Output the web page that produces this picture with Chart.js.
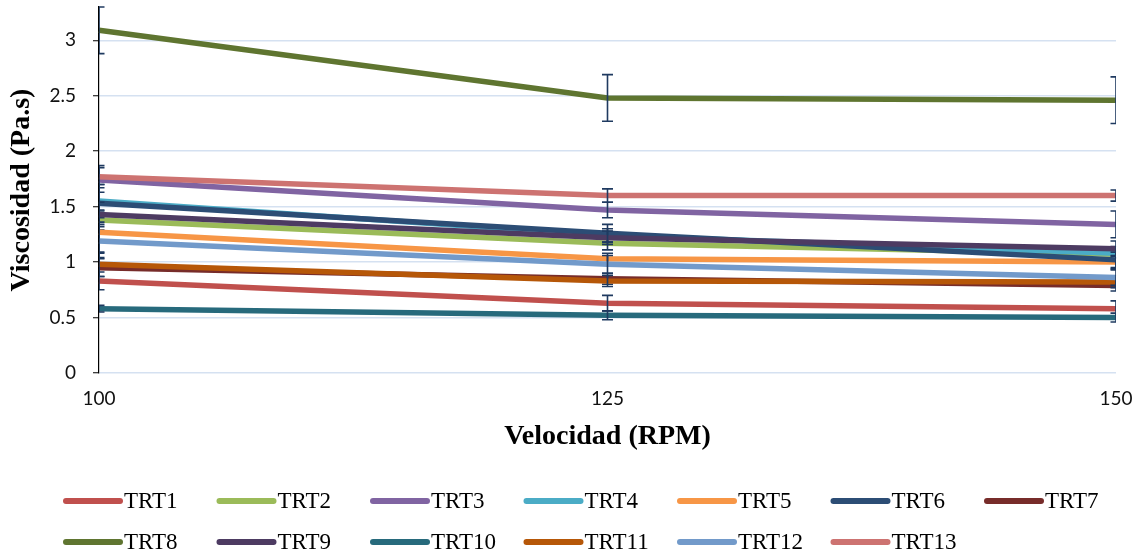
<!DOCTYPE html>
<html lang="es">
<head>
<meta charset="utf-8">
<title>Viscosidad vs Velocidad</title>
<script src="https://cdn.jsdelivr.net/npm/chart.js@4.4.1/dist/chart.umd.min.js"></script>
<style>
    html, body { margin: 0; padding: 0; background: #fff; }
    #grafico { display: block; }
</style>
</head>
<body>
<canvas id="grafico" width="1144" height="556"></canvas>
<script>
// Velocidades de ensayo (RPM)
const velocidades = ['100', '125', '150'];
const ticksViscosidad = [0, 0.5, 1, 1.5, 2, 2.5, 3];

// Viscosidad media (Pa.s) por tratamiento
const trt1 = [0.83, 0.63, 0.58];
const trt2 = [1.38, 1.17, 1.07];
const trt3 = [1.74, 1.47, 1.34];
const trt4 = [1.55, 1.24, 1.08];
const trt5 = [1.27, 1.03, 1.00];
const trt6 = [1.53, 1.26, 1.02];
const trt7 = [0.95, 0.85, 0.79];
const trt8 = [3.09, 2.48, 2.46];
const trt9 = [1.43, 1.22, 1.12];
const trt10 = [0.58, 0.52, 0.50];
const trt11 = [0.98, 0.83, 0.82];
const trt12 = [1.19, 0.98, 0.86];
const trt13 = [1.77, 1.60, 1.60];

// Desviación estándar (barras de error)
const de1 = [0.08, 0.07, 0.07];
const de2 = [0.09, 0.06, 0.06];
const de3 = [0.11, 0.07, 0.12];
const de4 = [0.15, 0.06, 0.06];
const de5 = [0.19, 0.05, 0.06];
const de6 = [0.17, 0.08, 0.07];
const de7 = [0.08, 0.05, 0.05];
const de8 = [0.21, 0.21, 0.21];
const de9 = [0.11, 0.06, 0.07];
const de10 = [0.03, 0.04, 0.04];
const de11 = [0.11, 0.05, 0.05];
const de12 = [0.15, 0.08, 0.07];
const de13 = [0.10, 0.06, 0.05];

const nombres = ['TRT1', 'TRT2', 'TRT3', 'TRT4', 'TRT5', 'TRT6', 'TRT7',
                 'TRT8', 'TRT9', 'TRT10', 'TRT11', 'TRT12', 'TRT13'];
const valores = [trt1, trt2, trt3, trt4, trt5, trt6, trt7, trt8, trt9, trt10, trt11, trt12, trt13];
const errores = [de1, de2, de3, de4, de5, de6, de7, de8, de9, de10, de11, de12, de13];

const colores = ['#C0504D', '#9BBB59', '#8064A2', '#4BACC6', '#F79646', '#2C4D75', '#772C2A',
                 '#5F7530', '#4D3B62', '#276A7C', '#B65708', '#729ACA', '#CD7371'];

const SERIF = '"Liberation Serif", "Times New Roman", serif';

// Barras de error: se dibujan justo despues de cada serie
const barrasError = {
    id: 'barrasError',
    afterDatasetDraw(chart, args) {
        const i = args.index;
        const de = errores[i];
        if (!de) return;
        const ctx = chart.ctx;
        const area = chart.chartArea;
        const x = chart.scales.x;
        const y = chart.scales.y;
        ctx.save();
        ctx.beginPath();
        ctx.rect(area.left, area.top - 1, area.right - area.left, area.bottom - area.top + 2);
        ctx.clip();
        ctx.strokeStyle = '#1F3A60';
        ctx.lineWidth = 1.6;
        valores[i].forEach((v, j) => {
            const px = x.getPixelForValue(j);
            const yArr = y.getPixelForValue(v + de[j]);
            const yAb = y.getPixelForValue(v - de[j]);
            ctx.beginPath();
            ctx.moveTo(px, yArr);
            ctx.lineTo(px, yAb);
            ctx.moveTo(px - 5.5, yArr);
            ctx.lineTo(px + 5.5, yArr);
            ctx.moveTo(px - 5.5, yAb);
            ctx.lineTo(px + 5.5, yAb);
            ctx.stroke();
        });
        ctx.restore();
    }
};

// Leyenda en columnas fijas (7 por fila)
const leyenda = {
    id: 'leyendaColumnas',
    afterDraw(chart) {
        const ctx = chart.ctx;
        ctx.save();
        ctx.font = '23px ' + SERIF;
        ctx.textBaseline = 'middle';
        ctx.fillStyle = '#000';
        chart.data.datasets.forEach((ds, i) => {
            const col = i % 7;
            const fila = Math.floor(i / 7);
            const x0 = 66 + col * 153.5;
            const y0 = 501 + fila * 41;
            ctx.strokeStyle = ds.borderColor;
            ctx.lineWidth = 6;
            ctx.lineCap = 'round';
            ctx.beginPath();
            ctx.moveTo(x0, y0);
            ctx.lineTo(x0 + 54, y0);
            ctx.stroke();
            ctx.fillText(ds.label, x0 + 58, y0 + 1);
        });
        ctx.restore();
    }
};

const datasets = nombres.map((nombre, i) => ({
    label: nombre,
    data: valores[i],
    borderColor: colores[i],
    backgroundColor: colores[i],
    borderWidth: 5.5,
    pointRadius: 0,
    tension: 0,
    fill: false,
    // la ultima serie queda encima
    order: nombres.length - i
}));

new Chart(document.getElementById('grafico'), {
    type: 'line',
    data: {
        labels: velocidades,
        datasets: datasets
    },
    options: {
        responsive: false,
        animation: false,
        devicePixelRatio: 1,
        layout: {
            padding: { top: 7, right: 28, bottom: 100, left: 0 }
        },
        plugins: {
            legend: { display: false },
            tooltip: { enabled: false }
        },
        scales: {
            x: {
                type: 'category',
                offset: false,
                grid: { display: false },
                border: { display: false },
                ticks: {
                    color: '#111',
                    padding: 6,
                    maxRotation: 0,
                    font: { family: 'Lato', size: 19 }
                },
                title: {
                    display: true,
                    text: 'Velocidad (RPM)',
                    color: '#000',
                    padding: { top: 0, bottom: 2 },
                    font: { family: SERIF, size: 28, weight: 'bold' }
                },
                afterFit(scale) {
                    scale.height = 83;
                    scale.paddingLeft = 0;
                    scale.paddingRight = 0;
                }
            },
            y: {
                min: 0,
                max: 3.3,
                afterBuildTicks(scale) {
                    scale.ticks = ticksViscosidad.map(v => ({ value: v }));
                },
                grid: {
                    color: '#D5E1F1',
                    lineWidth: 1.5,
                    tickColor: '#000',
                    tickLength: 6,
                    tickWidth: 1
                },
                border: { display: true, color: '#000', width: 1.2 },
                ticks: {
                    color: '#111',
                    padding: 17,
                    font: { family: 'Lato', size: 19 },
                    callback: function(value) {
                        return String(value);
                    }
                },
                title: {
                    display: true,
                    text: 'Viscosidad (Pa.s)',
                    color: '#000',
                    padding: { top: 5, bottom: 0 },
                    font: { family: SERIF, size: 28, weight: 'bold' }
                },
                afterFit(scale) {
                    scale.width = 99;
                    scale.paddingTop = 0;
                    scale.paddingBottom = 0;
                }
            }
        }
    },
    plugins: [barrasError, leyenda]
});
</script>
</body>
</html>
